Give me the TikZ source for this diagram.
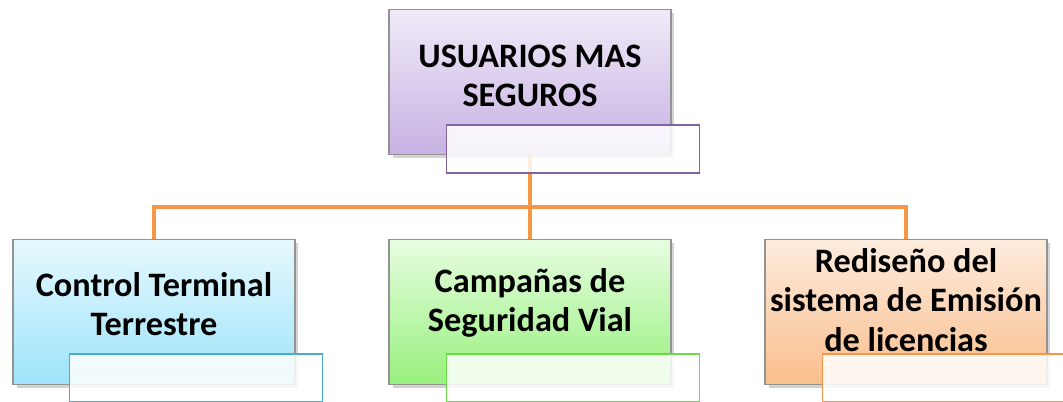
\documentclass[tikz,border=0pt]{standalone}
\usepackage{fontspec}
\setmainfont{Carlito}
\usetikzlibrary{positioning}
\usetikzlibrary{calc}
\usetikzlibrary{shadows}
\definecolor{linkorange}{RGB}{247,150,70}
\definecolor{purpletop}{RGB}{240,234,248}
\definecolor{purplebot}{RGB}{199,178,227}
\definecolor{purpleline}{RGB}{128,100,162}
\definecolor{cyantop}{RGB}{230,248,254}
\definecolor{cyanbot}{RGB}{158,228,250}
\definecolor{cyanline}{RGB}{75,172,198}
\definecolor{greentop}{RGB}{230,253,224}
\definecolor{greenbot}{RGB}{152,240,126}
\definecolor{greenline}{RGB}{102,221,68}
\definecolor{orangetop}{RGB}{253,236,222}
\definecolor{orangebot}{RGB}{250,190,140}

\begin{document}
\begin{tikzpicture}
        [
            x=0.02cm, y=-0.02cm,
            box/.style={rectangle, draw=gray!85, line width=1pt, minimum width=5.64cm, minimum height=2.9cm,
                drop shadow={shadow xshift=2pt, shadow yshift=-2pt, opacity=0.35}},
            note/.style={rectangle, line width=0.8pt, fill=white, fill opacity=0.85, minimum width=5.06cm, minimum height=0.96cm},
            txt/.style={align=center, font=\fontsize{19.5}{22.5}\selectfont\bfseries},
            link/.style={draw=linkorange, line width=2.8pt}
        ]
        \useasboundingbox (0,0) rectangle (1063,402);
        %nodes
        \node[box, top color=purpletop, bottom color=purplebot] at (530,82)   (usuarios)  {};
        \node[box, top color=cyantop, bottom color=cyanbot]     at (154,312)  (control)   {};
        \node[box, top color=greentop, bottom color=greenbot]   at (530,312)  (campanas)  {};
        \node[box, top color=orangetop, bottom color=orangebot] at (906,312)  (rediseno)  {};
        \node[txt] at (530,76)      (usuarios_t)    {USUARIOS MAS\\SEGUROS};
        \node[txt] at (154,304)     (control_t)     {Control Terminal\\Terrestre};
        \node[txt] at (530,303)     (campanas_t)    {Campañas de\\Seguridad Vial};
        \node[txt] at (906,300)     (rediseno_t)    {Rediseño del\\sistema de Emisión\\de licencias};
        %lines
        \coordinate (bus) at (530,207);
        \draw[link] (usuarios.south) -- (bus);
        \draw[link] (bus) -| (control.north);
        \draw[link] (bus) -- (campanas.north);
        \draw[link] (bus) -| (rediseno.north);
        %notes
        \node[note, draw=purpleline] at (573,149)   (usuarios_n)  {};
        \node[note, draw=cyanline]   at (196,378)   (control_n)   {};
        \node[note, draw=greenline]  at (573,378)   (campanas_n)  {};
        \node[note, draw=linkorange] at (949,378)   (rediseno_n)  {};
\end{tikzpicture}
\end{document}
